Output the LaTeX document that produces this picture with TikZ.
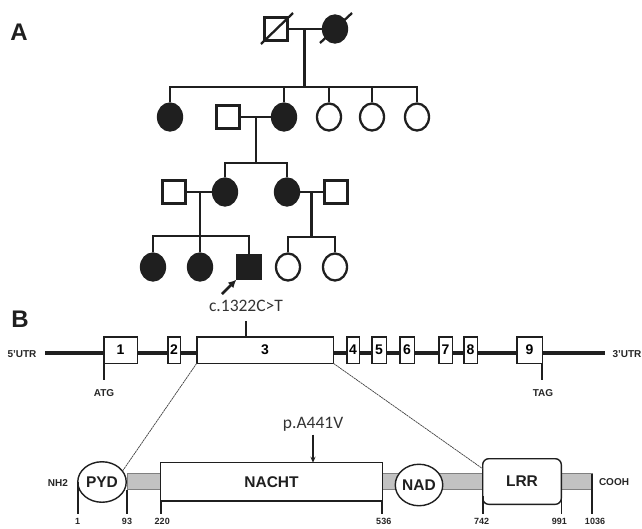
\documentclass[tikz,border=0pt]{standalone}
\usepackage{fontspec}
\setmainfont{Liberation Sans}
\newfontfamily\calfont{Carlito}
\usetikzlibrary{shapes.geometric,arrows.meta}
\begin{document}
\begin{tikzpicture}[x=1pt,y=-1pt,
  ped/.style={line width=2.3pt, draw=black!88, line join=miter},
  male/.style={draw=black!88, line width=2.3pt, rectangle, minimum width=23pt, minimum height=23pt, inner sep=0pt, fill=white},
  female/.style={draw=black!88, line width=2.3pt, ellipse, minimum width=24pt, minimum height=27pt, inner sep=0pt, fill=white},
  aff/.style={fill=black!88},
  panel/.style={font=\bfseries\fontsize{24}{24}\selectfont, text=black!88},
  exon/.style={draw=black!88, line width=1.5pt, fill=white, rectangle, minimum height=26.5pt, inner sep=0pt, outer sep=0pt, font=\bfseries\fontsize{14}{14}\selectfont},
  small/.style={font=\bfseries\fontsize{10}{10}\selectfont, text=black!85},
  num/.style={font=\bfseries\fontsize{9}{9}\selectfont, text=black!85, anchor=north, inner sep=1pt, yshift=-3.5pt},
  tick/.style={line width=1.6pt, draw=black!88},
  zoomline/.style={line width=0.7pt, draw=black!75, dash pattern=on 2.2pt off 0.6pt},
  dom/.style={draw=black!88, line width=1.4pt, fill=white, inner sep=0pt, outer sep=0pt, font=\bfseries\fontsize{15.5}{15.5}\selectfont, text=black!88},
  callout/.style={font=\calfont\fontsize{17.5}{17.5}\selectfont, text=black!80}
]
\useasboundingbox (0,0) rectangle (642,528);

% ---------------- Panel A: pedigree ----------------
\node[panel] (labA) at (19,32) {A};

% Generation I
\node[male] (I1) at (276,29) {};
\node[female,aff] (I2) at (335,29) {};
\draw[ped] (I1) +(-15,15) -- +(17,-16);
\draw[ped] (I2) +(-15,14) -- +(17,-16);
\draw[ped] (I1.east) -- (I2.west);
\coordinate (m1) at (304.5,29);
\coordinate (s1) at (304.5,87);
\draw[ped] (m1) -- (s1);

% Generation II
\node[female,aff] (II1) at (170,117) {};
\node[male] (II2) at (228,117) {};
\node[female,aff] (II3) at (284,117) {};
\node[female] (II4) at (329,117) {};
\node[female] (II5) at (372,117) {};
\node[female] (II6) at (417,117) {};
\draw[ped] (II1.north) -- (II1 |- s1) -- (II6 |- s1) -- (II6.north);
\draw[ped] (II3 |- s1) -- (II3.north);
\draw[ped] (II4 |- s1) -- (II4.north);
\draw[ped] (II5 |- s1) -- (II5.north);
\draw[ped] (II2.east) -- (II3.west);
\coordinate (m2) at (256,117);
\coordinate (s2) at (256,163);
\draw[ped] (m2) -- (s2);

% Generation III
\node[male] (III1) at (174,192) {};
\node[female,aff] (III2) at (225,192) {};
\node[female,aff] (III3) at (287,192) {};
\node[male] (III4) at (336,192) {};
\draw[ped] (III2.north) -- (III2 |- s2) -- (III3 |- s2) -- (III3.north);
\draw[ped] (III1.east) -- (III2.west);
\draw[ped] (III3.east) -- (III4.west);
\coordinate (m3) at (200,192);
\coordinate (s3) at (200,236);
\coordinate (m4) at (311.5,192);
\coordinate (s4) at (311.5,237);
\draw[ped] (m3) -- (s3);
\draw[ped] (m4) -- (s4);

% Generation IV
\node[female,aff] (IV1) at (153,267) {};
\node[female,aff] (IV2) at (200,267) {};
\node[male,aff] (IV3) at (249,267) {};
\node[female] (IV4) at (288,267) {};
\node[female] (IV5) at (335,267) {};
\draw[ped] (IV1.north) -- (IV1 |- s3) -- (IV3 |- s3) -- (IV3.north);
\draw[ped] (s3) -- (IV2.north);
\draw[ped] (IV4.north) -- (IV4 |- s4) -- (IV5 |- s4) -- (IV5.north);

% proband arrow
\coordinate (arrTail) at (222,294);
\draw[line width=2.6pt, draw=black!88, -{Latex[length=8pt,width=8pt]}] (arrTail) -- (IV3.south west);

% ---------------- Panel B: gene ----------------
\node[panel] (labB) at (20,319) {B};

\coordinate (gl) at (45,353);
\coordinate (gr) at (605,353);
\draw[line width=4.5pt, draw=black!88] (gl) -- (gr);
\node[small] (utr5) at (22,354) {5'UTR};
\node[small] (utr3) at (627,354) {3'UTR};

\node[exon, minimum width=33.5pt] (e1) at (120.5,350) {1};
\node[exon, minimum width=12.5pt] (e2) at (174,350) {2};
\node[exon, minimum width=136.5pt] (e3) at (265,350) {3};
\node[exon, minimum width=12.5pt] (e4) at (353,350) {4};
\node[exon, minimum width=14.5pt] (e5) at (379,350) {5};
\node[exon, minimum width=14.5pt] (e6) at (407,350) {6};
\node[exon, minimum width=13.5pt] (e7) at (445.5,350) {7};
\node[exon, minimum width=13.5pt] (e8) at (470.5,350) {8};
\node[exon, minimum width=25.5pt] (e9) at (529.5,350) {9};

\node[callout] (cmut) at (246,306) {c.1322C>T};
\coordinate (mutTop) at (246,321);
\coordinate (mutBot) at (246,336.5);
\draw[tick] (mutTop) -- (mutBot);

\node[small] (atg) at (104,393) {ATG};
\node[small] (tag) at (543,393) {TAG};
\draw[tick, line width=2pt, shorten >=6pt] (e1.south west) -- (e1.south west |- atg.north);
\draw[tick, line width=2pt, shorten >=6pt] (e9.south east) -- (e9.south east |- tag.north);

% ---------------- protein ----------------
\node[draw=black!50, line width=0.6pt, fill=black!24, rectangle, minimum width=465pt, minimum height=16pt, inner sep=0pt, outer sep=0pt] (bar) at (359.5,481.5) {};

\node[dom, ellipse, minimum width=48.5pt, minimum height=40.5pt] (pyd) at (102,482) {PYD};
\node[dom, rectangle, minimum width=221.5pt, minimum height=38.5pt] (nacht) at (271.5,482) {NACHT};
\node[dom, ellipse, minimum width=44.7pt, minimum height=41.5pt] (nad) at (419,485) {NAD};
\node[dom, rectangle, rounded corners=6pt, minimum width=78.6pt, minimum height=45.6pt] (lrr) at (522,481.5) {LRR};
\draw[line width=2pt, draw=black!88] (nacht.south west) -- (nacht.south east);

\draw[zoomline] (e3.south west) -- (pyd.28);
\draw[zoomline] (e3.south east) -- (lrr.162);

\node[small] (nh2) at (58,483) {NH2};
\node[small] (cooh) at (614,482) {COOH};

\node[callout] (pmut) at (313,424) {p.A441V};
\draw[line width=1.8pt, draw=black!88, -{Stealth[length=6pt,width=5pt]}] (pmut.south) -- (pmut.south |- nacht.north);

% position ticks
\draw[tick] (pyd.west) -- ++(0,32) coordinate (t1);
\node[num] (n1) at (t1) {1};
\draw[tick] (bar.south west) -- (bar.south west |- t1) coordinate (t93);
\node[num] (n93) at (t93) {93};
\draw[tick] (nacht.south west) -- (nacht.south west |- t1) coordinate (t220);
\node[num] (n220) at ([xshift=1.5pt]t220) {220};
\draw[tick] (nacht.south east) -- (nacht.south east |- t1) coordinate (t536);
\node[num] (n536) at ([xshift=1.5pt]t536) {536};
\draw[tick] ([yshift=8pt]lrr.south west) -- (lrr.south west |- t1) coordinate (t742);
\node[num] (n742) at ([xshift=-1pt]t742) {742};
\draw[tick] ([yshift=8pt]lrr.south east) -- (lrr.south east |- t1) coordinate (t991);
\node[num] (n991) at ([xshift=-2pt]t991) {991};
\draw[tick] (bar.north east) -- (bar.north east |- t1) coordinate (t1036);
\node[num] (n1036) at ([xshift=3pt]t1036) {1036};

\end{tikzpicture}
\end{document}
